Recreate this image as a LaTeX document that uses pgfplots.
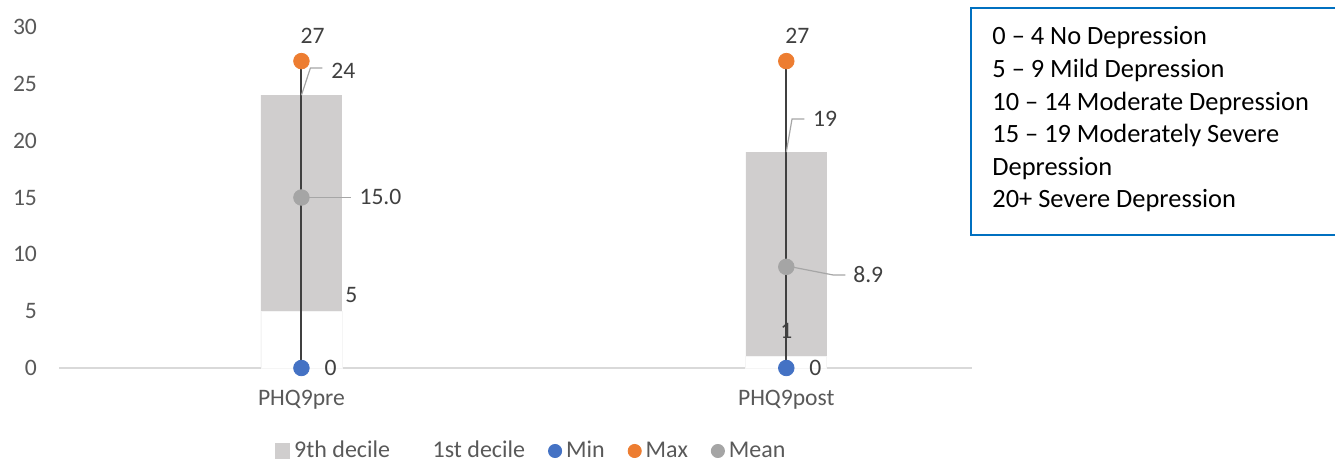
\documentclass[border=0pt]{standalone}
\usepackage{pgfplots}
\pgfplotsset{compat=1.18}
\usepackage{fontspec}
\setmainfont{Carlito}
\definecolor{bar9}{HTML}{D0CECE}
\definecolor{minblue}{HTML}{4472C4}
\definecolor{maxorange}{HTML}{ED7D31}
\definecolor{meangray}{HTML}{A5A5A5}
\definecolor{stem}{HTML}{404040}
\definecolor{lbl}{HTML}{404040}
\definecolor{tick}{HTML}{595959}
\definecolor{axisline}{HTML}{D9D9D9}
\definecolor{leader}{HTML}{A6A6A6}
\definecolor{boxblue}{HTML}{0070C0}
\newcommand{\lgd}[1]{\rule{2pt}{0pt}#1\rule{11.5pt}{0pt}}
\begin{document}
\begin{tikzpicture}
\useasboundingbox (-29.5pt,-46.5pt) rectangle (638pt,184pt);
\begin{axis}[
  at={(0pt,0pt)}, anchor=south west,
  scale only axis, width=456.5pt, height=170.5pt,
  xmin=-0.5, xmax=1.383, ymin=0, ymax=30,
  clip=false,
  axis x line*=bottom, axis y line*=left,
  x axis line style={draw=axisline, line width=0.75pt, -},
  y axis line style={draw=none},
  xtick={0,1}, xticklabels={PHQ9pre,PHQ9post},
  ytick={0,5,10,15,20,25,30},
  major tick length=0pt,
  tick style={draw=none},
  ticklabel style={font=\fontsize{11.8}{14}\selectfont, text=tick},
  /pgf/number format/assume math mode=true,
  yticklabel style={xshift=-7.5pt},
  xticklabel style={yshift=-7.5pt},
  legend columns=-1,
  legend style={draw=none, fill=none, at={(axis description cs:0.5285,-0.2434)}, anchor=center,
    font=\fontsize{12}{14}\selectfont, text=tick,
    column sep=0pt, inner xsep=0pt,
    nodes={inner sep=0pt}},
]
% bars: 9th decile (full height, gray) then 1st decile (white) over it
\addplot[ybar, bar width=40.5pt, bar shift=0pt, fill=bar9, draw=none, forget plot] coordinates {(0,24) (1,19)};
\addplot[ybar, bar width=40.5pt, bar shift=0pt, fill=white, draw=black!4, forget plot] coordinates {(0,5) (1,1)};
% min-max stems
\addplot[stem, line width=1pt, forget plot] coordinates {(0,0) (0,27)};
\addplot[stem, line width=1pt, forget plot] coordinates {(1,0) (1,27)};
% markers
\addplot[only marks, mark=*, mark size=3.9pt, color=minblue, forget plot] coordinates {(0,0) (1,0)};
\addplot[only marks, mark=*, mark size=3.9pt, color=maxorange, forget plot] coordinates {(0,27) (1,27)};
\addplot[only marks, mark=*, mark size=3.9pt, color=meangray, forget plot] coordinates {(0,15.0) (1,8.9)};
% legend
\addlegendimage{legend image code/.code={\fill[bar9] (0pt,-3.7pt) rectangle (7.4pt,3.7pt);}}
\addlegendentry{\lgd{9th decile}}
\addlegendimage{legend image code/.code={\fill[white] (0pt,-3.7pt) rectangle (7.4pt,3.7pt);}}
\addlegendentry{\lgd{1st decile}}
\addlegendimage{legend image code/.code={\fill[minblue] (3.3pt,0pt) circle (3.3pt);}}
\addlegendentry{\lgd{Min}}
\addlegendimage{legend image code/.code={\fill[maxorange] (3.3pt,0pt) circle (3.3pt);}}
\addlegendentry{\lgd{Max}}
\addlegendimage{legend image code/.code={\fill[meangray] (3.3pt,0pt) circle (3.3pt);}}
\addlegendentry{\lgd{Mean}}
% leader lines
\draw[leader, line width=0.6pt] (axis cs:0,24) -- (axis cs:0.0186,26.4) -- (axis cs:0.0433,26.4);
\draw[leader, line width=0.6pt] (axis cs:0,15) -- (axis cs:0.103,15);
\draw[leader, line width=0.6pt] (axis cs:1,19) -- (axis cs:1.0118,21.9) -- (axis cs:1.0371,21.9);
\draw[leader, line width=0.6pt] (axis cs:1.01,8.9) -- (axis cs:1.097,8.18) -- (axis cs:1.122,8.18);
% data labels
\begin{scope}[every node/.style={font=\fontsize{11.8}{14}\selectfont, text=lbl, inner sep=0pt}]
\node at (axis cs:0.023,29.2) {27};
\node at (axis cs:1.023,29.2) {27};
\node at (axis cs:0.0866,26.1) {24};
\node at (axis cs:0.163,15.04) {15.0};
\node at (axis cs:0.103,6.42) {5};
\node at (axis cs:0.06,0) {0};
\node at (axis cs:1.080,21.9) {19};
\node at (axis cs:1.169,8.18) {8.9};
\node at (axis cs:1,3.25) {1};
\node at (axis cs:1.0598,0) {0};
\end{scope}
\end{axis}
% text box
\draw[boxblue, line width=0.8pt, fill=white] (456pt,66.5pt) rectangle (680pt,180pt);
\begin{scope}[every node/.style={font=\fontsize{13.2}{16}\selectfont, text=black, inner sep=0pt, anchor=base west}]
\node at (466.5pt,161.5pt) {0 – 4 No Depression};
\node at (466.5pt,145pt) {5 – 9 Mild Depression};
\node at (466.5pt,128.5pt) {10 – 14 Moderate Depression};
\node at (466.5pt,112.5pt) {15 – 19 Moderately Severe};
\node at (466.5pt,96pt) {Depression};
\node at (466.5pt,80pt) {20+ Severe Depression};
\end{scope}
\end{tikzpicture}
\end{document}
